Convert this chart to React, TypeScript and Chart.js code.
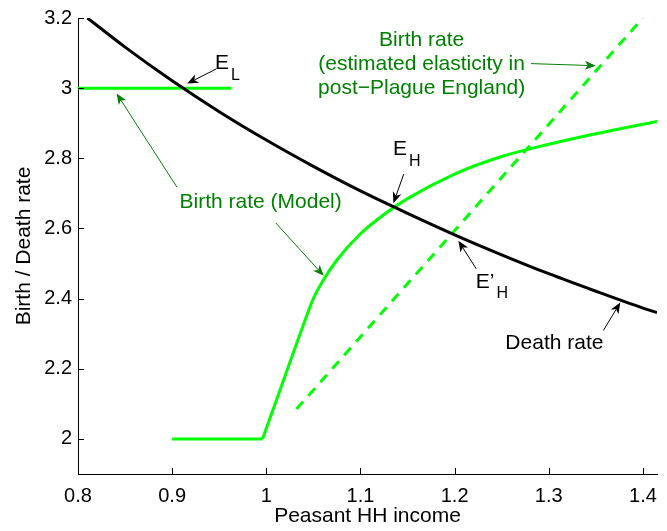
import React, { useEffect, useRef } from "react";
import { Chart, registerables } from "chart.js";

Chart.register(...registerables);

// ---- axis ticks ----
const xTicks = [0.8, 0.9, 1.0, 1.1, 1.2, 1.3, 1.4];
const yTicks = [2, 2.2, 2.4, 2.6, 2.8, 3, 3.2];
const xRange = [0.8, 1.415];
const yRange = [1.9, 3.2];

// ---- series ----
const deathX = [0.81, 0.85, 0.9, 0.95, 1.0, 1.05, 1.1, 1.15, 1.2, 1.25, 1.3, 1.35, 1.4, 1.415];
const deathY = [3.2, 3.117, 3.021, 2.933, 2.852, 2.777, 2.707, 2.643, 2.582, 2.525, 2.471, 2.421, 2.373, 2.36];

const modelFlatX = [0.9, 0.996];
const modelFlatY = [2.0, 2.0];
const modelX = [0.996, 1.02, 1.04, 1.05, 1.06, 1.075, 1.1, 1.125, 1.15, 1.2, 1.25, 1.3, 1.35, 1.415];
const modelY = [2.0, 2.18, 2.33, 2.4, 2.45, 2.51, 2.585, 2.64, 2.685, 2.755, 2.805, 2.84, 2.87, 2.905];

const lowX = [0.8, 0.963];
const lowY = [3.0, 3.0];

const estX = [1.032, 1.4];
const estY = [2.085, 3.2];

// ---- annotations (data coordinates) ----
const GREEN_TXT = "rgb(0,128,0)";
const LIME = "rgb(0,255,0)";

const textLabels = [
  { x: 0.994, y: 2.675, text: "Birth rate (Model)", color: GREEN_TXT },
  { x: 1.165, y: 3.138, text: "Birth rate", color: GREEN_TXT },
  { x: 1.165, y: 3.067, text: "(estimated elasticity in", color: GREEN_TXT },
  { x: 1.165, y: 2.999, text: "post\u2212Plague England)", color: GREEN_TXT },
  { x: 1.306, y: 2.272, text: "Death rate", color: "#000" },
];

const subLabels = [
  { x: 0.954, y: 3.07, main: "E", sub: "L" },
  { x: 1.143, y: 2.826, main: "E", sub: "H" },
  { x: 1.236, y: 2.448, main: "E\u2019", sub: "H" },
];

const arrowFromX = [0.947, 0.905, 1.01, 1.281, 1.146, 1.223, 1.358];
const arrowFromY = [3.055, 2.718, 2.616, 3.07, 2.755, 2.485, 2.309];
const arrowToX = [0.916, 0.841, 1.061, 1.35, 1.135, 1.204, 1.376];
const arrowToY = [3.013, 2.985, 2.465, 3.064, 2.672, 2.565, 2.389];
const arrowColors = ["#000", GREEN_TXT, GREEN_TXT, GREEN_TXT, "#000", "#000", "#000"];

const FONT = "'Liberation Sans', Arial, Helvetica, sans-serif";

const pts = (xs: number[], ys: number[]) => xs.map((x, i) => ({ x, y: ys[i] }));

function drawArrow(ctx: CanvasRenderingContext2D, x1: number, y1: number, x2: number, y2: number, color: string) {
  const ang = Math.atan2(y2 - y1, x2 - x1);
  const L = 11;
  const W = 4.5;
  const N = 3;
  ctx.save();
  ctx.strokeStyle = color;
  ctx.fillStyle = color;
  ctx.lineWidth = 1;
  ctx.beginPath();
  ctx.moveTo(x1, y1);
  ctx.lineTo(x2 - Math.cos(ang) * (L - N), y2 - Math.sin(ang) * (L - N));
  ctx.stroke();
  const c = Math.cos(ang), s = Math.sin(ang);
  const bx = x2 - c * L, by = y2 - s * L;
  ctx.beginPath();
  ctx.moveTo(x2, y2);
  ctx.lineTo(bx - s * W, by + c * W);
  ctx.lineTo(x2 - c * (L - N), y2 - s * (L - N));
  ctx.lineTo(bx + s * W, by - c * W);
  ctx.closePath();
  ctx.fill();
  ctx.restore();
}

const annotPlugin = {
  id: "annot",
  afterDatasetsDraw(chart: any) {
    const ctx: CanvasRenderingContext2D = chart.ctx;
    const xs = chart.scales.x;
    const ys = chart.scales.y;
    const area = chart.chartArea;
    ctx.save();
    // inward ticks
    ctx.strokeStyle = "#000";
    ctx.lineWidth = 1;
    ctx.beginPath();
    xTicks.forEach((v) => {
      const px = Math.round(xs.getPixelForValue(v)) + 0.5;
      ctx.moveTo(px, area.bottom);
      ctx.lineTo(px, area.bottom - 6);
    });
    yTicks.forEach((v) => {
      const py = Math.round(ys.getPixelForValue(v)) + 0.5;
      ctx.moveTo(area.left, py);
      ctx.lineTo(area.left + 6, py);
    });
    ctx.stroke();

    // arrows
    arrowFromX.forEach((_, i) => {
      drawArrow(
        ctx,
        xs.getPixelForValue(arrowFromX[i]),
        ys.getPixelForValue(arrowFromY[i]),
        xs.getPixelForValue(arrowToX[i]),
        ys.getPixelForValue(arrowToY[i]),
        arrowColors[i]
      );
    });

    // text
    ctx.textAlign = "center";
    ctx.textBaseline = "middle";
    ctx.font = `21px ${FONT}`;
    textLabels.forEach((t) => {
      ctx.fillStyle = t.color;
      ctx.fillText(t.text, xs.getPixelForValue(t.x), ys.getPixelForValue(t.y));
    });
    subLabels.forEach((t) => {
      const px = xs.getPixelForValue(t.x);
      const py = ys.getPixelForValue(t.y);
      ctx.fillStyle = "#000";
      ctx.font = `21px ${FONT}`;
      ctx.textAlign = "right";
      ctx.fillText(t.main, px + 6, py);
      ctx.font = `16px ${FONT}`;
      ctx.textAlign = "left";
      ctx.fillText(t.sub, px + 8, py + 12);
    });
    ctx.restore();
  },
};

export default function App() {
  const ref = useRef<HTMLCanvasElement | null>(null);
  useEffect(() => {
    document.body.style.margin = "0";
    if (!ref.current) return;
    Chart.defaults.font.family = FONT;
    const chart = new Chart(ref.current, {
      type: "line",
      data: {
        datasets: [
          { data: pts(deathX, deathY), borderColor: "#000", borderWidth: 3, pointRadius: 0, cubicInterpolationMode: "monotone" },
          { data: pts(lowX, lowY), borderColor: LIME, borderWidth: 3, pointRadius: 0, tension: 0 },
          { data: pts(modelFlatX, modelFlatY), borderColor: LIME, borderWidth: 3, pointRadius: 0, tension: 0 },
          { data: pts(modelX, modelY), borderColor: LIME, borderWidth: 3, pointRadius: 0, cubicInterpolationMode: "monotone" },
          { data: pts(estX, estY), borderColor: LIME, borderWidth: 3, pointRadius: 0, tension: 0, borderDash: [10, 8] },
        ],
      },
      options: {
        animation: false,
        responsive: false,
        devicePixelRatio: 1,
        layout: { padding: { left: 0, top: 16, right: 8, bottom: 0 } },
        plugins: { legend: { display: false }, tooltip: { enabled: false } },
        scales: {
          x: {
            type: "linear",
            min: xRange[0],
            max: xRange[1],
            grid: { display: false, drawTicks: false },
            border: { display: true, color: "#000", width: 1 },
            afterBuildTicks: (s: any) => { s.ticks = xTicks.map((v) => ({ value: v })); },
            afterFit: (s: any) => { s.height = 57; },
            ticks: { color: "#000", font: { size: 20 }, padding: 10, maxRotation: 0, autoSkip: false, callback: (v: any) => String(v) },
            title: { display: true, text: "Peasant HH income", color: "#000", font: { size: 21 }, padding: { top: 0, bottom: 2 } },
          },
          y: {
            type: "linear",
            min: yRange[0],
            max: yRange[1],
            grid: { display: false, drawTicks: false },
            border: { display: true, color: "#000", width: 1 },
            afterBuildTicks: (s: any) => { s.ticks = yTicks.map((v) => ({ value: v })); },
            afterFit: (s: any) => { s.width = 78; },
            ticks: { color: "#000", font: { size: 20 }, padding: 6, autoSkip: false, callback: (v: any) => String(v) },
            title: { display: true, text: "Birth / Death rate", color: "#000", font: { size: 21 }, padding: { top: 12, bottom: 0 } },
          },
        },
      },
      plugins: [annotPlugin],
    } as any);
    return () => chart.destroy();
  }, []);
  return (
    <div style={{ position: "absolute", left: 0, top: 0, width: 667, height: 531 }}>
      <canvas ref={ref} width={667} height={531} style={{ width: 667, height: 531 }} />
    </div>
  );
}
